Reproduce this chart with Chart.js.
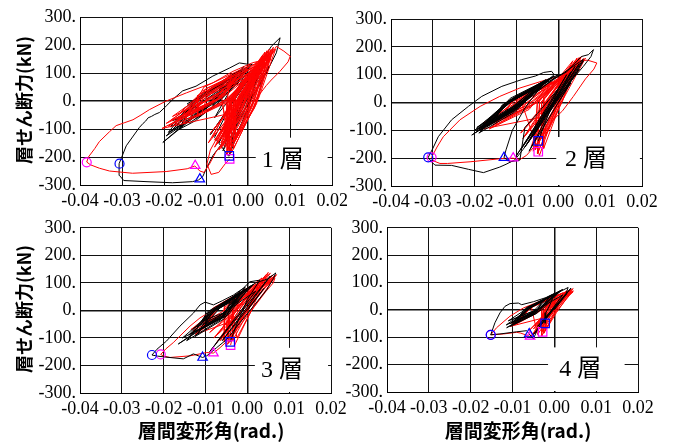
<!DOCTYPE html>
<html>
<head>
<meta charset="utf-8">
<script src="https://cdn.jsdelivr.net/npm/chart.js@4.4.1/dist/chart.umd.min.js"></script>
<style>
  body { margin: 0; background: #fff; overflow: hidden; }
  #wrap { position: relative; width: 675px; height: 443px; }
  canvas { position: absolute; }
</style>
</head>
<body>
<div id="wrap">
  <canvas id="c1"></canvas>
  <canvas id="c2"></canvas>
  <canvas id="c3"></canvas>
  <canvas id="c4"></canvas>
</div>
<script>
// story drift angle (rad) vs story shear (kN), stories 1-4

var xTicks = [-0.04, -0.03, -0.02, -0.01, 0, 0.01, 0.02];
var yTicks = [-300, -200, -100, 0, 100, 200, 300];
var storyLabels = ['1 層', '2 層', '3 層', '4 層'];
var xAxisTitle = '層間変形角(rad.)';
var yAxisTitle = '層せん断力(kN)';

// black = case A, red = case B  ([drift, shear])
var p1Black = [
  [0, 0], [0.003, 60], [0.004, 95], [-0.001, 20], [-0.003, -75], [0.001, 10], [0.005, 125], [0.0, 40],
  [-0.005, -125], [-0.001, -20], [0.002, 100], [-0.002, 10], [-0.004, -155], [0.0, -30], [0.003, 130],
  [-0.0015, 20], [-0.006, -178], [-0.001, -40], [0.004, 150], [-0.001, 30], [-0.0045, -195], [0.0, -20], [0.001, 110],
  [-0.0203, -148], [-0.015, -80], [-0.009, -5], [-0.002, 110], [-0.009, 45], [-0.014, -20],
  [-0.019, -112], [-0.0135, -65], [-0.0075, 10], [-0.004, 85], [-0.010, 25], [-0.015, -40],
  [-0.017, -95], [-0.012, -50], [-0.006, 25], [0.000, 120], [-0.007, 55], [-0.0125, 5],
  [-0.0185, -92], [-0.014, -60], [-0.0095, -15], [-0.003, 100], [-0.009, 40], [-0.0135, -15],
  [-0.016, -88], [-0.011, -40], [-0.005, 35], [0.001, 132], [-0.006, 70], [-0.0115, 15],
  [-0.0165, -102], [-0.0125, -70], [-0.0085, -20], [-0.006, 62], [-0.011, 10], [-0.016, -55],
  [-0.014, -78], [-0.0095, -35], [-0.004, 45], [-0.002, 110], [-0.0075, 40], [-0.012, -10],
  [-0.0195, -125], [-0.0145, -75], [-0.0105, -30], [-0.005, 76], [-0.0105, 30], [-0.0155, -30],
  [-0.0125, -62], [-0.008, -20], [-0.003, 60], [0.000, 115], [-0.005, 60], [-0.0105, 0],
  [-0.018, -70], [-0.013, -45], [-0.008, 5], [-0.003, 92], [-0.0085, 40], [-0.0145, -10],
  [-0.011, -32], [-0.007, 0], [-0.002, 70], [-0.0095, 10], [-0.0145, -50],
  [-0.0185, -110], [-0.013, -55], [-0.007, 15], [-0.001, 125],
  [-0.008, -60], [0.002, 120], [-0.009, -120], [0.003, 140], [-0.007, -150], [0.004, 160],
  [0.0055, 195], [0.0076, 226], [0.0067, 172], [0.0043, 100], [0.0011, 18], [-0.0013, -41], [-0.0037, -100],
  [-0.006, -148], [-0.0084, -195], [-0.0100, -243], [-0.0108, -270], [-0.0118, -282], [-0.0132, -288], [-0.018, -292],
  [-0.0243, -288], [-0.0296, -284], [-0.0306, -266], [-0.0307, -224], [-0.029, -160], [-0.0259, -95], [-0.0250, -80],
  [-0.0244, -72], [-0.0238, -60], [-0.0230, -55], [-0.0222, -48], [-0.0211, -41], [-0.0195, -18], [-0.0179, 6],
  [-0.0156, 36], [-0.0124, 53], [-0.0084, 89], [-0.0044, 118], [-0.0021, 136], [0.0005, 130],
  [-0.002, 60], [-0.005, -40], [-0.008, -130], [-0.0046, -198]
];
var p1Red = [
  [0, 0], [0.002, 50], [-0.003, -40],
  [-0.0205, -98], [-0.008, 0], [0.0015, 132], [-0.011, 35],
  [-0.017, -75], [-0.0075, 5], [-0.001, 100], [-0.0095, 30],
  [-0.0185, -70], [-0.007, 10], [0.002, 125], [-0.010, 45],
  [-0.015, -55], [-0.006, 15], [-0.003, 80], [-0.008, 35],
  [-0.019, -90], [-0.0085, -10], [0.0, 115], [-0.0115, 25],
  [-0.016, -40], [-0.006, 25], [-0.002, 105], [-0.0085, 50],
  [-0.0175, -85], [-0.0065, -10], [0.001, 90], [-0.0105, 15],
  [-0.014, -65], [-0.005, 5], [-0.004, 95], [-0.009, 40],
  [-0.018, -55], [-0.0075, 20], [0.0005, 128], [-0.0105, 50],
  [-0.0155, -80], [-0.0055, -5], [-0.001, 70], [-0.0095, 10],
  [-0.013, -35], [-0.005, 25], [0.002, 110], [-0.0075, 45],
  [-0.0195, -80], [-0.009, -5], [-0.0025, 90], [-0.012, 20],
  [-0.012, -55], [-0.0045, 0], [0.001, 120], [-0.007, 30],
  [-0.0165, -60], [-0.007, 5], [-0.0035, 70], [-0.0095, 25],
  [-0.011, -40], [-0.004, 15], [0.0, 100], [-0.0065, 35],
  [-0.0045, -185], [0.0005, -10], [0.0045, 180], [-0.002, 20],
  [-0.006, -160], [-0.001, -5], [0.003, 150], [-0.003, 15],
  [-0.0035, -172], [0.002, 0], [0.006, 192], [-0.0005, 30],
  [-0.008, -140], [-0.0015, -20], [0.0035, 165], [-0.004, 10],
  [-0.005, -178], [0.001, -15], [0.005, 170], [-0.0015, 25],
  [-0.007, -120], [-0.002, 0], [0.002, 140], [-0.0035, 25],
  [-0.004, -150], [0.0015, 5], [0.0055, 185], [-0.001, 35],
  [-0.009, -115], [-0.003, -10], [0.004, 160], [-0.005, 0],
  [-0.0055, -165], [0.0, -20], [0.0025, 120], [-0.0025, 10],
  [-0.0065, -135], [-0.0005, 5], [0.005, 175], [-0.003, 30],
  [-0.003, -140], [0.0025, 10], [0.0065, 185], [0.0, 40],
  [-0.0075, -155], [-0.0025, -25], [0.0035, 145], [-0.0045, 15],
  [-0.0045, -180], [0.0005, -30], [0.0045, 170], [-0.002, 5],
  [-0.006, -100], [-0.001, 15], [0.006, 178], [-0.0025, 45],
  [-0.0085, -130], [-0.003, -30], [0.003, 130], [-0.005, -10],
  [-0.005, -190], [0.0015, -25], [0.0055, 160], [-0.001, 10],
  [-0.0065, -170], [-0.0005, -25], [0.004, 175], [-0.0035, 5],
  [-0.0095, -150], [-0.0035, -40], [0.002, 110], [-0.006, -20],
  [-0.004, -165], [0.002, -10], [0.005, 185], [-0.0015, 20],
  [-0.007, -175], [-0.0015, -35], [0.0035, 150], [-0.0045, -5],
  [-0.0055, -145], [0.0, -5], [0.0045, 165], [-0.002, 25],
  [-0.008, -165], [-0.002, -40], [0.003, 140], [-0.004, -5],
  [-0.006, -130], [-0.0015, -30], [0.0025, 130], [-0.0035, 0],
  [-0.0035, -150], [0.001, -20], [0.004, 140], [-0.001, 15],
  [-0.0075, -140], [-0.0025, -30], [0.0045, 175], [-0.003, 20],
  [-0.005, -160], [0.0, -25], [0.006, 185], [-0.0015, 30],
  [-0.0065, -150], [-0.001, -35], [0.0035, 160], [-0.004, 0],
  [-0.004, -185], [0.001, -35], [0.0055, 170], [-0.0005, 20],
  [0.0067, 195], [0.0085, 178], [0.0100, 160], [0.0095, 140], [0.0075, 105], [0.0055, 75], [0.0043, 55], [0.002, 10],
  [0.0, -30], [-0.0036, -95], [-0.0055, -140], [-0.0076, -180], [-0.0092, -225], [-0.0105, -255], [-0.0115, -250],
  [-0.0127, -232], [-0.0145, -242], [-0.0195, -252], [-0.0275, -258], [-0.0330, -250], [-0.0354, -240], [-0.0375, -228],
  [-0.0384, -218], [-0.0380, -200], [-0.0365, -170], [-0.0354, -145], [-0.0330, -110], [-0.0314, -88], [-0.0295, -78],
  [-0.0274, -67], [-0.0255, -50], [-0.0235, -31], [-0.0195, 0], [-0.0147, 29], [-0.0084, 65], [-0.0036, 106], [0.0011, 137],
  [0.0035, 145], [0.0055, 150],
  [0.003, 110], [-0.001, 30], [-0.004, -50], [-0.0070, -120], [-0.0090, -175], [-0.0098, -225], [-0.0088, -262],
  [-0.007, -255], [-0.0055, -225], [-0.0044, -207]
];
var p2Black = [
  [0, 0], [0.003, 70], [-0.004, -60], [0.005, 120], [-0.006, -120], [0.004, 130], [-0.008, -160], [0.006, 150],
  [-0.007, -175], [0.003, 110], [-0.010, -190], [0.005, 140], [-0.0075, -150], [0.002, 100], [-0.009, -170], [0.006, 155],
  [-0.0207, -117], [-0.011, -25], [-0.003, 75], [-0.0125, 0],
  [-0.019, -95], [-0.0105, -20], [-0.002, 85], [-0.012, 5],
  [-0.0195, -105], [-0.0115, -30], [-0.005, 55], [-0.013, -10],
  [-0.018, -80], [-0.010, -10], [-0.001, 95], [-0.0115, 15],
  [-0.0185, -100], [-0.0105, -30], [-0.004, 65], [-0.0125, -5],
  [-0.017, -85], [-0.0095, -20], [-0.0025, 80], [-0.011, 5],
  [-0.0195, -90], [-0.011, -15], [-0.006, 45], [-0.013, -5],
  [-0.016, -70], [-0.009, -10], [0.0, 100], [-0.0105, 20],
  [-0.019, -110], [-0.0105, -35], [-0.0035, 70], [-0.0125, -5],
  [-0.0175, -75], [-0.010, -15], [-0.0015, 90], [-0.0115, 10],
  [-0.020, -100], [-0.0115, -25], [-0.005, 60], [-0.0135, -10],
  [-0.015, -60], [-0.0085, 0], [-0.002, 85], [-0.010, 20],
  [-0.0185, -92], [-0.0105, -25], [-0.004, 72], [-0.012, 0],
  [-0.0165, -78], [-0.0095, -15], [-0.003, 82], [-0.011, 10],
  [-0.0195, -98], [-0.011, -28], [-0.0045, 62], [-0.0125, -8],
  [-0.0175, -88], [-0.010, -22], [-0.0025, 78], [-0.0115, 2],
  [0.002, 110], [0.0055, 165], [0.0072, 172], [0.0084, 190], [0.0078, 165], [0.006, 130], [0.004, 95], [0.001, 40],
  [-0.002, -20], [-0.0056, -110], [-0.0085, -170], [-0.0104, -206], [-0.0125, -222], [-0.014, -232], [-0.0179, -252],
  [-0.0215, -240], [-0.0255, -226], [-0.0295, -225], [-0.0305, -210], [-0.0311, -197], [-0.0300, -165], [-0.0287, -123],
  [-0.0255, -62], [-0.0215, -14], [-0.0183, 22], [-0.0135, 58], [-0.0088, 82], [-0.0055, 95], [-0.0035, 108],
  [-0.0016, 112], [-0.001, 100], [-0.004, 60], [-0.008, -20], [-0.011, -100], [-0.0125, -170], [-0.013, -198],
  [-0.0115, -213], [-0.0092, -207], [-0.008, -90], [-0.005, -40], [0.0, 50], [-0.0048, -138]
];
var p2Red = [
  [0, 0], [0.002, 50], [-0.003, -50],
  [-0.019, -98], [-0.008, -20], [0.001, 90], [-0.0105, 5],
  [-0.0175, -85], [-0.0075, -10], [-0.001, 70], [-0.0095, 10],
  [-0.016, -90], [-0.0065, -15], [0.002, 95], [-0.009, 10],
  [-0.018, -75], [-0.008, -5], [-0.002, 60], [-0.0105, 15],
  [-0.0145, -70], [-0.006, -5], [0.0, 80], [-0.0085, 15],
  [-0.0165, -95], [-0.007, -25], [-0.003, 50], [-0.0095, -5],
  [-0.013, -60], [-0.005, 0], [0.0015, 100], [-0.0075, 20],
  [-0.0185, -90], [-0.0085, -15], [-0.0015, 75], [-0.011, 5],
  [-0.015, -80], [-0.0065, -10], [0.0005, 85], [-0.009, 10],
  [-0.0045, -190], [-0.0005, -15], [0.0045, 160], [-0.0025, 10],
  [-0.006, -150], [-0.0015, -5], [0.003, 135], [-0.0035, 15],
  [-0.0035, -165], [0.0005, -5], [0.0055, 165], [-0.0015, 20],
  [-0.008, -120], [-0.002, -10], [0.0035, 150], [-0.0045, 5],
  [-0.005, -180], [0.0, -20], [0.0065, 160], [-0.002, 15],
  [-0.007, -140], [-0.0015, -15], [0.0025, 120], [-0.004, 0],
  [-0.004, -130], [0.0005, 5], [0.005, 155], [-0.0015, 30],
  [-0.009, -110], [-0.0025, -5], [0.004, 140], [-0.005, 10],
  [-0.0055, -170], [-0.001, -20], [0.002, 110], [-0.003, 0],
  [-0.0065, -160], [-0.0005, -10], [0.006, 158], [-0.0035, 20],
  [-0.003, -120], [0.001, 5], [0.0045, 145], [-0.001, 25],
  [-0.0075, -135], [-0.002, -20], [0.003, 125], [-0.0045, -5],
  [-0.005, -185], [-0.0005, -25], [0.005, 162], [-0.0025, 10],
  [-0.0085, -130], [-0.0025, -20], [0.0035, 138], [-0.005, 0],
  [-0.006, -175], [-0.001, -30], [0.004, 150], [-0.003, 5],
  [-0.0045, -140], [0.0, 0], [0.0055, 150], [-0.002, 25],
  [0.005, 150], [0.007, 152], [0.0092, 142], [0.0085, 120], [0.0065, 85], [0.0036, 22], [0.001, -30], [-0.0012, -62],
  [-0.0044, -135], [-0.0076, -190], [-0.0092, -205], [-0.0108, -200], [-0.0132, -201], [-0.0211, -213], [-0.0265, -219],
  [-0.0283, -219], [-0.0298, -210], [-0.0303, -197], [-0.0290, -160], [-0.0275, -123], [-0.0235, -62], [-0.0187, -14],
  [-0.014, 22], [-0.0092, 52], [-0.0028, 82], [0.0004, 94], [0.003, 115], [0.005, 140], [0.002, 80], [-0.002, 0],
  [-0.004, -80], [-0.0048, -177]
];
var p3Black = [
  [0, 0], [0.004, 80], [-0.006, -110], [0.0055, 125], [-0.009, -150], [0.002, 70],
  [-0.0165, -122], [-0.007, -30], [-0.002, 55], [-0.009, -5],
  [-0.014, -90], [-0.006, -20], [0.0, 80], [-0.0085, 0],
  [-0.012, -60], [-0.0055, -10], [-0.003, 45], [-0.0075, 5],
  [-0.0155, -100], [-0.0065, -30], [0.001, 90], [-0.0095, -5],
  [-0.011, -40], [-0.005, -5], [-0.001, 70], [-0.007, 15],
  [-0.013, -80], [-0.006, -25], [-0.004, 30], [-0.009, -10],
  [-0.0145, -110], [-0.0065, -35], [0.0015, 95], [-0.0095, -10],
  [-0.010, -50], [-0.0045, -10], [-0.002, 60], [-0.0065, 10],
  [-0.0125, -95], [-0.0055, -30], [-0.0005, 85], [-0.008, -5],
  [-0.0115, -70], [-0.005, -20], [-0.003, 40], [-0.0075, 0],
  [-0.0135, -85], [-0.006, -25], [-0.0015, 65], [-0.0085, -5],
  [-0.0105, -65], [-0.0045, -15], [0.0, 75], [-0.007, 5],
  [0.002, 100], [0.005, 115], [0.0068, 136], [0.0062, 115], [0.0046, 74], [0.0014, 14], [-0.0018, -45], [-0.0049, -105],
  [-0.0073, -135], [-0.0097, -165], [-0.0107, -171], [-0.0129, -158], [-0.0153, -176], [-0.0192, -170], [-0.0215, -166],
  [-0.0228, -162], [-0.0216, -141], [-0.0193, -111], [-0.0161, -57], [-0.0129, -10], [-0.0113, 20], [-0.0101, 30],
  [-0.0081, 20], [-0.0060, 35], [-0.0033, 56], [-0.0010, 80], [0.0006, 104], [0.003, 110], [0.0, 40], [-0.002, -30],
  [-0.0041, -114]
];
var p3Red = [
  [0, 0], [0.002, 40], [-0.002, -30],
  [-0.0125, -87], [-0.005, -10], [0.0, 80], [-0.0075, 10],
  [-0.011, -60], [-0.0045, 0], [-0.002, 60], [-0.0065, 15],
  [-0.013, -75], [-0.005, -5], [0.001, 90], [-0.008, 10],
  [-0.0095, -45], [-0.004, 5], [-0.001, 70], [-0.006, 20],
  [-0.012, -80], [-0.0055, -10], [-0.003, 50], [-0.0075, 0],
  [-0.0105, -55], [-0.0035, 5], [0.0005, 85], [-0.006, 20],
  [-0.0135, -70], [-0.006, -5], [-0.0015, 65], [-0.0085, 5],
  [-0.009, -35], [-0.003, 10], [0.0015, 92], [-0.0055, 25],
  [-0.0045, -120], [-0.0005, -15], [0.004, 120], [-0.0025, 5],
  [-0.006, -95], [-0.0015, -5], [0.0055, 135], [-0.0035, 15],
  [-0.0035, -110], [0.0, -10], [0.003, 105], [-0.002, 10],
  [-0.008, -100], [-0.002, -15], [0.006, 128], [-0.0045, 5],
  [-0.005, -128], [-0.001, -20], [0.0045, 130], [-0.003, 0],
  [-0.007, -85], [-0.0025, 0], [0.002, 95], [-0.0045, 15],
  [-0.004, -95], [0.0, 0], [0.0065, 125], [-0.002, 20],
  [-0.009, -80], [-0.003, -5], [0.0035, 118], [-0.0055, 10],
  [-0.0055, -115], [-0.0015, -20], [0.005, 110], [-0.0035, 0],
  [-0.0025, -100], [0.001, 0], [0.007, 130], [-0.001, 25],
  [-0.0065, -110], [-0.002, -20], [0.0025, 100], [-0.004, 0],
  [-0.003, -125], [0.0005, -15], [0.005, 138], [-0.0015, 10],
  [-0.0075, -120], [-0.0025, -25], [0.004, 112], [-0.0045, -5],
  [-0.0045, -105], [-0.0005, -5], [0.006, 120], [-0.0025, 15],
  [0.0066, 118], [0.0062, 100], [0.0045, 70], [0.002, 20], [-0.001, -40], [-0.004, -100], [-0.0065, -135], [-0.0081, -155],
  [-0.0097, -153], [-0.0137, -165], [-0.0185, -171], [-0.0200, -166], [-0.0207, -160], [-0.0195, -140], [-0.0177, -117],
  [-0.0137, -57], [-0.0113, -27], [-0.0081, 2], [-0.0033, 38], [0.0014, 74], [0.0062, 110], [0.004, 80], [0.0, 10],
  [-0.003, -60], [-0.004, -126]
];
var p4Black = [
  [0, 0], [0.003, 60], [-0.004, -60], [0.004, 80], [-0.005, -90], [0.002, 55],
  [-0.0114, -65], [-0.005, -15], [0.0, 55], [-0.0065, 5],
  [-0.010, -45], [-0.0045, -5], [-0.002, 40], [-0.006, 10],
  [-0.0105, -60], [-0.0045, -15], [0.001, 65], [-0.0065, 0],
  [-0.009, -35], [-0.004, 0], [-0.003, 30], [-0.0055, 10],
  [-0.0115, -55], [-0.005, -10], [0.002, 75], [-0.007, 5],
  [-0.0095, -50], [-0.004, -10], [-0.001, 50], [-0.006, 5],
  [-0.0085, -25], [-0.0035, 5], [0.0005, 60], [-0.0055, 15],
  [-0.011, -40], [-0.005, -5], [-0.0025, 35], [-0.0065, 10],
  [-0.0075, -30], [-0.003, 0], [0.0015, 70], [-0.005, 15],
  [-0.0105, -50], [-0.0045, -10], [-0.0005, 55], [-0.0065, 5],
  [0.0033, 82], [0.0028, 60], [0.001, 25], [-0.002, -30], [-0.004, -70], [-0.005, -106], [-0.006, -88], [-0.0066, -76],
  [-0.009, -80], [-0.013, -88], [-0.0152, -91], [-0.0142, -47], [-0.013, -11], [-0.0118, 13], [-0.0106, 23],
  [-0.0086, 25], [-0.0078, 19], [-0.005, 30], [-0.002, 45], [0.0, 60], [-0.001, 20], [-0.002, -10], [-0.0022, -49]
];
var p4Red = [
  [0, 0], [0.0015, 30], [-0.0015, -25],
  [-0.0105, -60], [-0.004, -5], [0.002, 62], [-0.006, 10],
  [-0.009, -45], [-0.0035, 0], [-0.001, 45], [-0.0055, 10],
  [-0.0095, -55], [-0.004, -10], [0.003, 68], [-0.006, 5],
  [-0.008, -35], [-0.003, 5], [0.0, 50], [-0.005, 15],
  [-0.010, -50], [-0.0045, -5], [0.0015, 58], [-0.0065, 5],
  [-0.0085, -40], [-0.0035, 0], [-0.0005, 42], [-0.0055, 10],
  [-0.004, -90], [-0.0005, -10], [0.003, 70], [-0.0015, 5],
  [-0.005, -70], [-0.001, -5], [0.004, 75], [-0.002, 10],
  [-0.003, -80], [0.0, -10], [0.0025, 60], [-0.001, 5],
  [-0.0055, -95], [-0.001, -15], [0.0045, 78], [-0.0025, 0],
  [-0.0035, -60], [0.0, 0], [0.0035, 68], [-0.0015, 10],
  [-0.0045, -85], [-0.0005, -15], [0.002, 55], [-0.002, 0],
  [-0.002, -70], [0.0005, 0], [0.004, 72], [-0.0005, 15],
  [-0.006, -75], [-0.0015, -10], [0.003, 65], [-0.003, 5],
  [-0.003, -95], [0.0, -15], [0.0045, 70], [-0.0015, 5],
  [-0.004, -50], [-0.0005, 0], [0.0025, 62], [-0.002, 10],
  [-0.005, -90], [-0.001, -15], [0.0035, 72], [-0.0025, 0],
  [-0.0025, -85], [0.0005, -10], [0.004, 66], [-0.001, 5],
  [0.0045, 67], [0.003, 50], [0.001, 20], [-0.002, -30], [-0.004, -75], [-0.0058, -97], [-0.008, -85], [-0.009, -82],
  [-0.0122, -88], [-0.0152, -91], [-0.0138, -65], [-0.0106, -23], [-0.0074, 7], [-0.0026, 37], [0.0021, 61],
  [0.0045, 67], [0.002, 30], [-0.001, -20], [-0.0028, -80]
];

// marker points: circle, triangle, square
var p1BlueMarks = [[-0.0306, -224], [-0.0115, -279], [-0.0045, -196]];
var p1PinkMarks = [[-0.0384, -219], [-0.0126, -231], [-0.0044, -207]];
var p2BlueMarks = [[-0.0311, -197], [-0.0130, -198], [-0.0048, -138]];
var p2PinkMarks = [[-0.0303, -197], [-0.0108, -200], [-0.0048, -177]];
var p3BlueMarks = [[-0.0228, -162], [-0.0107, -171], [-0.0041, -114]];
var p3PinkMarks = [[-0.0207, -160], [-0.0081, -155], [-0.0040, -126]];
var p4BlueMarks = [[-0.0152, -91], [-0.0060, -88], [-0.0022, -49]];
var p4PinkMarks = [[-0.0152, -91], [-0.0058, -97], [-0.0028, -80]];

var markStyles = ['circle', 'triangle', 'rect'];
var markRadius = [4.5, 5.5, 6];

var serif = "'Liberation Serif', 'Times New Roman', serif";
var cjk = "'Noto Sans CJK JP', sans-serif";

// white box with the story label (drawn over the grid) + axis titles
var storyBox = {
  id: 'storyBox',
  beforeDatasetsDraw: function (chart, args, o) {
    var ctx = chart.ctx, xs = chart.scales.x, ys = chart.scales.y, area = chart.chartArea;
    var x0 = xs.getPixelForValue(o.x0), x1 = xs.getPixelForValue(o.x1), y0 = ys.getPixelForValue(o.top);
    ctx.save();
    ctx.fillStyle = '#fff';
    ctx.fillRect(x0, y0, x1 - x0, area.bottom - 1 - y0);
    ctx.fillStyle = '#000';
    ctx.font = "24px 'Liberation Serif', 'Noto Sans CJK JP'";
    ctx.textAlign = 'center';
    ctx.textBaseline = 'middle';
    ctx.fillText(o.text, xs.getPixelForValue(o.tx), ys.getPixelForValue(o.ty));
    ctx.restore();
  },
  afterDraw: function (chart, args, o) {
    var ctx = chart.ctx;
    ctx.save();
    ctx.fillStyle = '#000';
    ctx.textAlign = 'center';
    ctx.textBaseline = 'middle';
    if (o.yTitle) {
      ctx.save();
      ctx.translate(o.yTitle[0], o.yTitle[1]);
      ctx.rotate(-Math.PI / 2);
      ctx.font = "bold 18px " + cjk;
      ctx.fillText(yAxisTitle, 0, 0);
      ctx.restore();
    }
    if (o.xTitle) {
      ctx.font = "bold 19px " + cjk;
      ctx.fillText(xAxisTitle, o.xTitle[0], o.xTitle[1]);
    }
    ctx.restore();
  }
};

function toXY(arr) {
  return arr.map(function (p) { return { x: p[0], y: p[1] }; });
}

function drawPanel(p) {
  var cv = document.getElementById(p.id);
  cv.width = p.w; cv.height = p.h;
  cv.style.left = p.left + 'px'; cv.style.top = p.top + 'px';

  var yAxisW = p.area.l - p.left;
  var xAxisH = p.top + p.h - p.area.b;

  var datasets = [];
  markStyles.forEach(function (st, i) {
    datasets.push({ data: toXY([p.blue[i]]), pointStyle: st, pointRadius: markRadius[i], borderColor: '#0000ff',
      backgroundColor: 'rgba(0,0,0,0)', pointBorderWidth: 1.2 });
    datasets.push({ data: toXY([p.pink[i]]), pointStyle: st, pointRadius: markRadius[i], borderColor: '#ff00ff',
      backgroundColor: 'rgba(0,0,0,0)', pointBorderWidth: 1.2 });
  });
  var red = { data: toXY(p.red), showLine: true, borderColor: '#ff0000', borderWidth: 1, pointRadius: 0 };
  var black = { data: toXY(p.black), showLine: true, borderColor: '#000000', borderWidth: 1, pointRadius: 0 };
  // first dataset is painted last (on top)
  if (p.blackOnTop) { datasets.push(black, red); } else { datasets.push(red, black); }

  var gridW = function (c) { return c.tick && Math.abs(c.tick.value) < 1e-9 ? 1.5 : 1; };

  new Chart(cv, {
    type: 'scatter',
    data: { datasets: datasets },
    plugins: [storyBox],
    options: {
      responsive: false,
      animation: false,
      devicePixelRatio: 1,
      layout: { padding: { left: 0, top: p.area.t - p.top, right: p.left + p.w - p.area.r, bottom: 0 } },
      plugins: {
        legend: { display: false },
        tooltip: { enabled: false },
        storyBox: p.box
      },
      scales: {
        x: {
          type: 'linear', min: -0.04, max: 0.02,
          afterBuildTicks: function (s) { s.ticks = xTicks.map(function (v) { return { value: v }; }); },
          afterFit: function (s) { s.height = xAxisH; },
          ticks: {
            autoSkip: false, maxRotation: 0, padding: 5, color: '#000',
            font: { family: serif, size: 18 },
            callback: function (v) { return (Math.abs(v) < 1e-9 ? 0 : v).toFixed(2); }
          },
          grid: { color: '#111', lineWidth: gridW, drawTicks: false },
          border: { color: '#000', width: 1 }
        },
        y: {
          type: 'linear', min: -300, max: 300,
          afterBuildTicks: function (s) { s.ticks = yTicks.map(function (v) { return { value: v }; }); },
          afterFit: function (s) { s.width = yAxisW; },
          ticks: {
            padding: 4, color: '#000',
            font: { family: serif, size: 18 },
            callback: function (v) { return Math.round(v) + '.'; }
          },
          grid: { color: '#111', lineWidth: gridW, drawTicks: false },
          border: { color: '#000', width: 1 }
        }
      }
    }
  });
}

var panels = [
  { id: 'c1', left: 0, top: 0, w: 353, h: 215, area: { l: 80, t: 17, r: 333, b: 185 },
    black: p1Black, red: p1Red, blue: p1BlueMarks, pink: p1PinkMarks, blackOnTop: false,
    box: { x0: 0.0018, x1: 0.0189, top: -131, tx: 0.0082, ty: -213, text: storyLabels[0], yTitle: [24, 100] } },
  { id: 'c2', left: 335, top: 0, w: 340, h: 215, area: { l: 391, t: 19, r: 642, b: 186 },
    black: p2Black, red: p2Red, blue: p2BlueMarks, pink: p2PinkMarks, blackOnTop: true,
    box: { x0: -0.0005, x1: 0.0195, top: -124, tx: 0.0066, ty: -207, text: storyLabels[1] } },
  { id: 'c3', left: 0, top: 213, w: 353, h: 230, area: { l: 80, t: 225, r: 331, b: 393 },
    black: p3Black, red: p3Red, blue: p3BlueMarks, pink: p3PinkMarks, blackOnTop: true,
    box: { x0: 0.0018, x1: 0.0193, top: -136, tx: 0.0083, ty: -218, text: storyLabels[2],
      yTitle: [24, 96], xTitle: [211, 218] } },
  { id: 'c4', left: 335, top: 213, w: 340, h: 230, area: { l: 387, t: 225, r: 638, b: 392 },
    black: p4Black, red: p4Red, blue: p4BlueMarks, pink: p4PinkMarks, blackOnTop: true,
    box: { x0: -0.0015, x1: 0.0168, top: -137, tx: 0.0062, ty: -220, text: storyLabels[3], xTitle: [183, 218] } }
];

panels.forEach(drawPanel);
</script>
</body>
</html>
